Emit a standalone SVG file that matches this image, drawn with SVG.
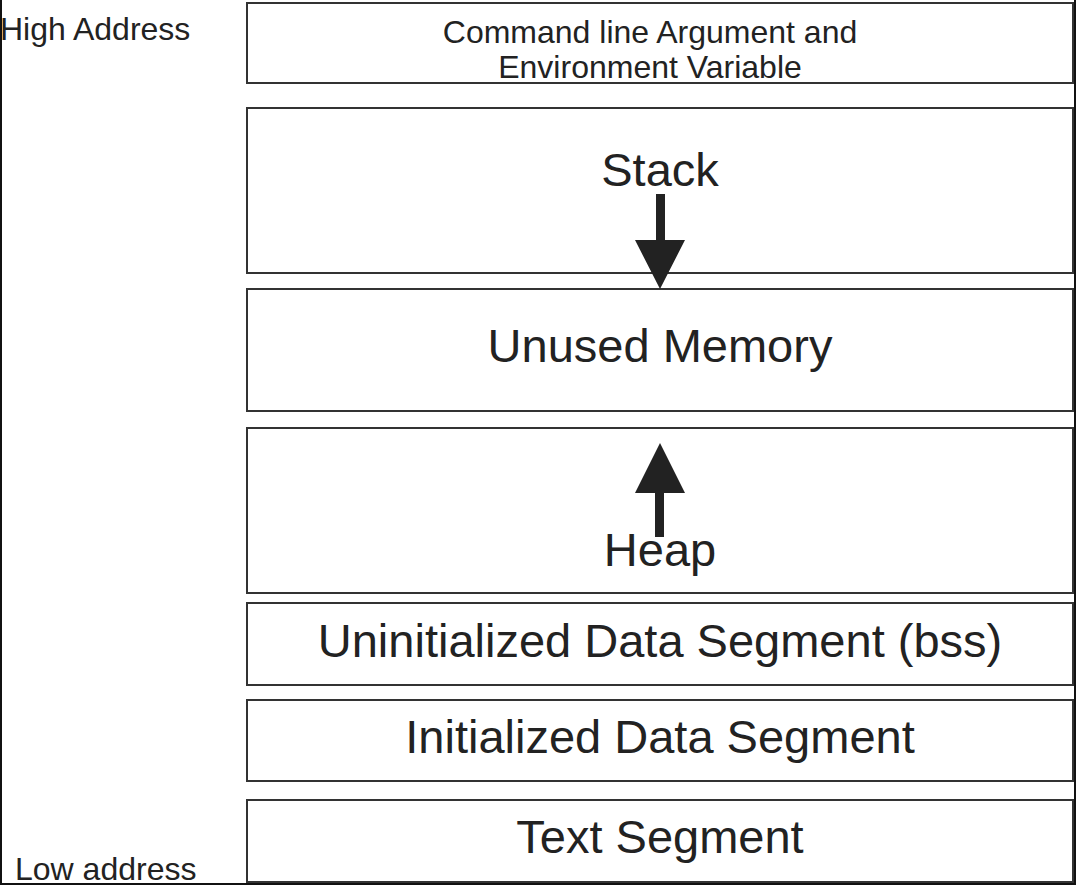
<svg xmlns="http://www.w3.org/2000/svg" width="1076" height="886" viewBox="0 0 1076 886">
<style>
.box{fill:#fff;stroke:#333;stroke-width:2}
.t{font-family:"Liberation Sans",Arial,sans-serif;fill:#222;text-anchor:middle}
.big{font-size:47px}
.small{font-size:32px}
.lbl{font-family:"Liberation Sans",Arial,sans-serif;fill:#222;font-size:32px}
.arr{fill:#222}
</style>
<rect width="1076" height="886" fill="#fff"/>
<g id="frame"><path d="M1,0 V884 H1075 V0" fill="none" stroke="#111" stroke-width="2"/></g>
<g id="labels">
<text class="lbl" x="0" y="40">High Address</text>
<text class="lbl" x="15" y="880">Low address</text>
</g>
<g id="cmdline"><rect class="box" x="247" y="3" width="826" height="80"/>
<text class="t small" x="650" y="43">Command line Argument and</text>
<text class="t small" x="650" y="78">Environment Variable</text></g>
<g id="stack"><rect class="box" x="247" y="108" width="826" height="165"/>
<text class="t big" x="660" y="186">Stack</text></g>
<g id="unused"><rect class="box" x="247" y="289" width="826" height="122"/>
<text class="t big" x="660" y="362">Unused Memory</text></g>
<g id="heap"><rect class="box" x="247" y="428" width="826" height="165"/>
<text class="t big" x="660" y="566">Heap</text></g>
<g id="bss"><rect class="box" x="247" y="603" width="826" height="82"/>
<text class="t big" x="660" y="657">Uninitialized Data Segment (bss)</text></g>
<g id="data"><rect class="box" x="247" y="700" width="826" height="81"/>
<text class="t big" x="660" y="753">Initialized Data Segment</text></g>
<g id="text"><rect class="box" x="247" y="800" width="826" height="82"/>
<text class="t big" x="660" y="853">Text Segment</text></g>
<g id="connectors">
<path class="arr" d="M656,194 H665 V240 H685 L660,289 L635,240 H656 Z"/>
<path class="arr" d="M660,443 L685,493 H664 V537 H655 V493 H635 Z"/>
</g>
</svg>
